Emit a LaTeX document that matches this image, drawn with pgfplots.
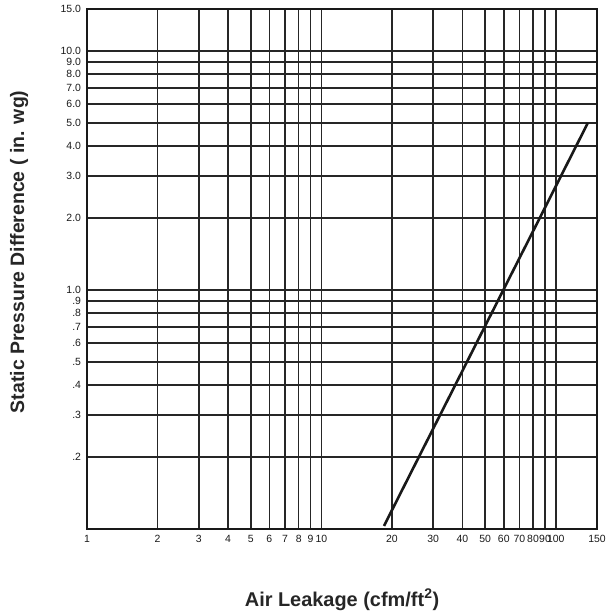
\documentclass[border=0pt]{standalone}
\usepackage{fontspec}
\setmainfont{Liberation Sans}
\usepackage{pgfplots}
\pgfplotsset{compat=1.18}
\begin{document}
\begin{tikzpicture}[x=1bp,y=1bp]
\path[use as bounding box] (0,0) rectangle (606,615);
\begin{axis}[
  at={(87bp,86bp)}, anchor=south west,
  scale only axis, width=510bp, height=520bp,
  xmode=log, ymode=log,
  xmin=1, xmax=150, ymin=0.1, ymax=15,
  xtick={1,2,3,4,5,6,7,8,9,10,20,30,40,50,60,70,80,90,100,150},
  xticklabels={1,2,3,4,5,6,7,8,9,10,20,30,40,50,60,70,80,90,100,150},
  ytick={0.2,0.3,0.4,0.5,0.6,0.7,0.8,0.9,1,2,3,4,5,6,7,8,9,10,15},
  yticklabels={.2,.3,.4,.5,.6,.7,.8,.9,1.0,2.0,3.0,4.0,5.0,6.0,7.0,8.0,9.0,10.0,15.0},
  minor tick num=0,
  grid=major,
  major grid style={draw=black!85, line width=1.5bp},
  axis line style={draw=black!90, line width=2.2bp},
  major tick length=0pt,
  tick style={draw=none},
  ticklabel style={font=\fontsize{10.5}{12}\selectfont, text=black!90},
  xticklabel style={yshift=-2.5bp},
  yticklabel style={xshift=-2.5bp},
  xlabel={Air Leakage (cfm/ft\textsuperscript{2})},
  ylabel={Static Pressure Difference ( in. wg)},
  xlabel style={at={(axis description cs:0.5,-0.1365)}, anchor=center, font=\bfseries\fontsize{20}{23}\selectfont, text=black!85},
  ylabel style={at={(axis description cs:-0.133,0.533)}, anchor=center, font=\bfseries\fontsize{19.5}{22}\selectfont, text=black!85},
  clip=false,
]
\addplot[black!90, line width=2.6bp] coordinates {(18.5,0.103) (137,5.0)};
\end{axis}
\end{tikzpicture}
\end{document}
